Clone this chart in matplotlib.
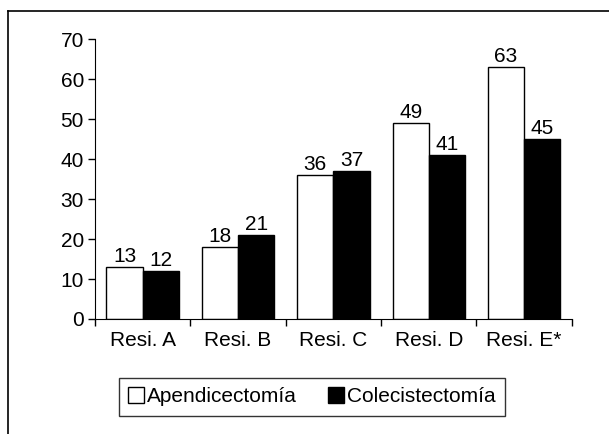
import matplotlib
matplotlib.use("Agg")
import matplotlib.pyplot as plt
from matplotlib.lines import Line2D
import numpy as np

plt.rcParams['font.family'] = ['Liberation Sans', 'DejaVu Sans']

categorias = ["Resi. A", "Resi. B", "Resi. C", "Resi. D", "Resi. E*"]
apendicectomia = [13, 18, 36, 49, 63]
colecistectomia = [12, 21, 37, 41, 45]

fig = plt.figure(figsize=(6.09, 4.34), dpi=100)
ax = fig.add_axes([0.156, 0.265, 0.783, 0.644])

x = np.arange(len(categorias))
w = 0.38
b1 = ax.bar(x - w / 2, apendicectomia, w, color="white", edgecolor="black",
            linewidth=1, label="Apendicectomía")
b2 = ax.bar(x + w / 2, colecistectomia, w, color="black", edgecolor="black",
            linewidth=1, label="Colecistectomía")
ax.bar_label(b1, fontsize=15, padding=1)
ax.bar_label(b2, fontsize=15, padding=1)

ax.set_xlim(-0.5, len(categorias) - 0.5)
ax.set_ylim(0, 70)
ax.set_yticks(range(0, 71, 10))
ax.tick_params(axis="y", labelsize=15, length=5, width=1, pad=3)

# category labels centred, ticks on the boundaries
ax.set_xticks(x)
ax.set_xticklabels(categorias, fontsize=15)
ax.tick_params(axis="x", which="major", length=0, pad=9)
ax.set_xticks(np.arange(-0.5, len(categorias)), minor=True)
ax.tick_params(axis="x", which="minor", length=5, width=1)

for s in ["top", "right"]:
    ax.spines[s].set_visible(False)

leg = ax.legend(loc="upper center", bbox_to_anchor=(0.512, 0.129),
                bbox_transform=fig.transFigure, ncol=2,
                fontsize=15, frameon=True, fancybox=False, edgecolor="black",
                handlelength=0.75, handleheight=0.75, handletextpad=0.15,
                columnspacing=1.5, borderpad=0.45, borderaxespad=0)
leg.get_frame().set_linewidth(1)

# outer frame: top and left edges only
fig.add_artist(Line2D([0.013, 1.0], [0.975, 0.975], color="black", lw=1.2,
                      transform=fig.transFigure))
fig.add_artist(Line2D([0.013, 0.013], [0.0, 0.975], color="black", lw=1.2,
                      transform=fig.transFigure))

fig.savefig("out.png", dpi=100)
